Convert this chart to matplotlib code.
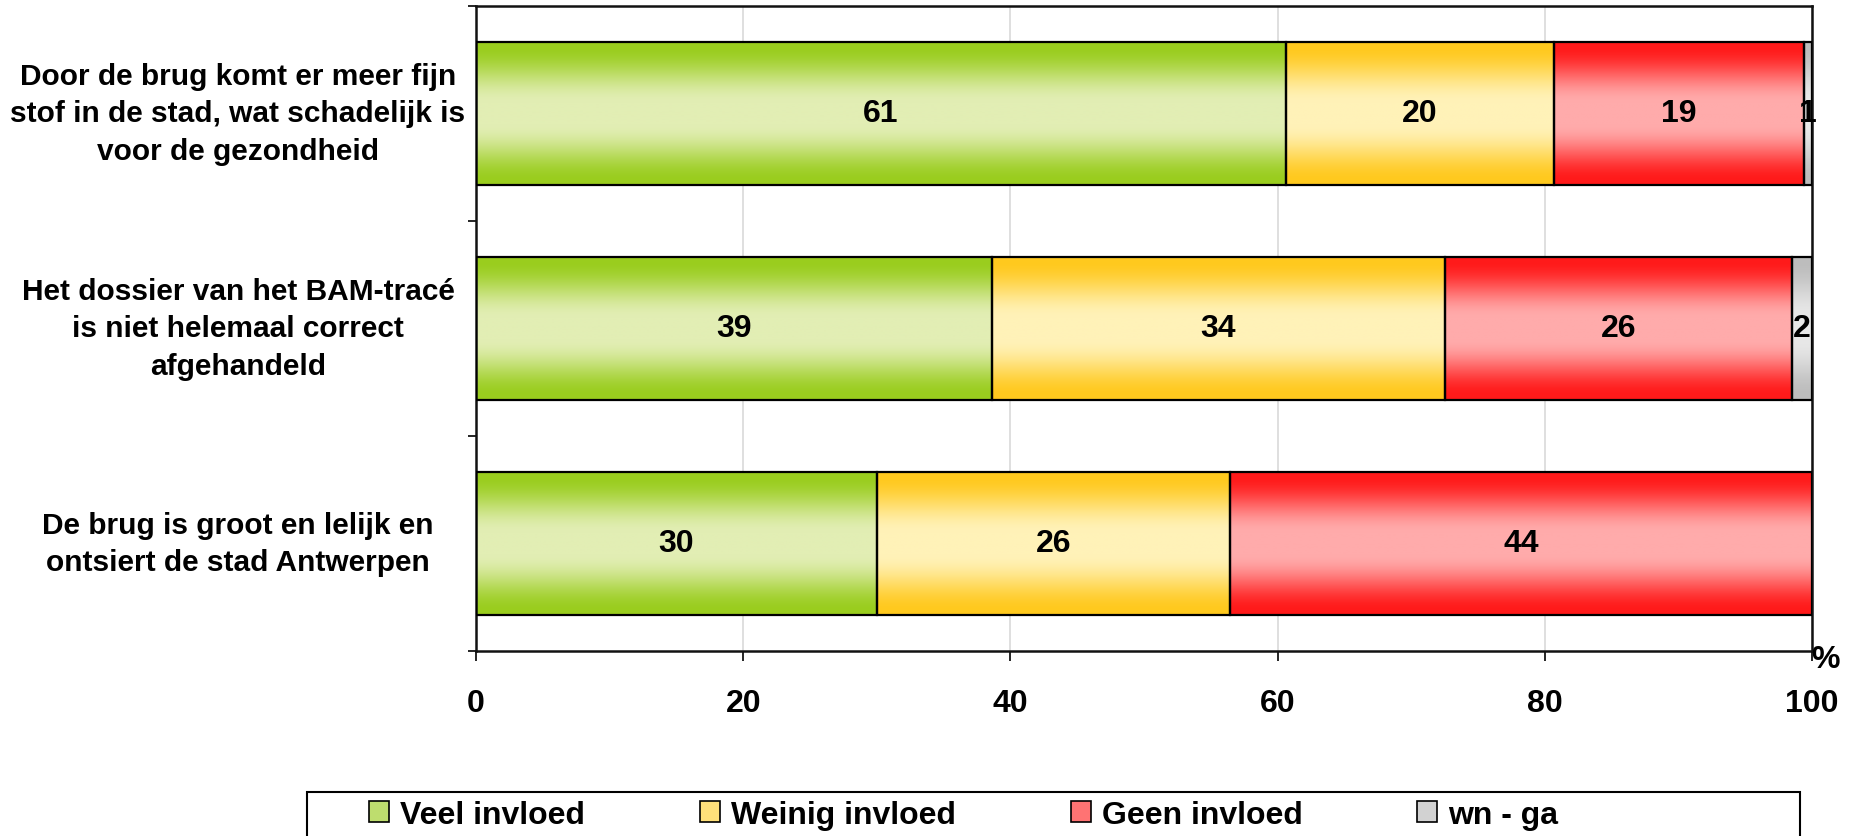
import numpy as np
import matplotlib
matplotlib.use('Agg')
import matplotlib.pyplot as plt
from matplotlib.colors import to_rgb
from matplotlib.patches import Patch, Rectangle
from matplotlib.ticker import FixedLocator

plt.rcParams['font.family'] = ['Liberation Sans', 'DejaVu Sans']
plt.rcParams['font.weight'] = 'bold'

statements = ['Door de brug komt er meer fijn\nstof in de stad, wat schadelijk is\nvoor de gezondheid',
              'Het dossier van het BAM-tracé\nis niet helemaal correct\nafgehandeld',
              'De brug is groot en lelijk en\nontsiert de stad Antwerpen']
series = ['Veel invloed', 'Weinig invloed', 'Geen invloed', 'wn - ga']
veel   = [60.6, 38.6, 30.0]
weinig = [20.1, 33.9, 26.4]
geen   = [18.7, 26.0, 43.6]
wn_ga  = [0.6, 1.5, 0.0]
xticks = [0, 20, 40, 60, 80, 100]

# (edge colour, centre colour) of the vertical gradients
grads = [('#9ACD1E', '#E2EEB4'),
         ('#FFC91E', '#FFF2B8'),
         ('#FF1A1A', '#FFABAB'),
         ('#BDBDBD', '#E8E8E8')]
legend_cols = ['#BEDD6E', '#FFE07A', '#FF7373', '#D2D2D2']


def gradient_img(edge, centre, n=200):
    t = np.abs(np.linspace(-1, 1, n))
    s = np.clip((t - 0.15) / 0.8, 0, 1)
    f = s * s * (3 - 2 * s)
    e, c = np.array(to_rgb(edge)), np.array(to_rgb(centre))
    img = c[None, :] + (e - c)[None, :] * f[:, None]
    return img[:, None, :]


fig = plt.figure(figsize=(18.55, 8.37), dpi=100)
ax = fig.add_axes([476 / 1855, 1 - 652 / 837, (1812 - 476) / 1855, (652 - 7) / 837])

bar_h = 0.665
data = [veel, weinig, geen, wn_ga]
for i in range(len(statements)):
    left = 0
    for s, vals in enumerate(data):
        v = vals[i]
        if v <= 0:
            continue
        ax.imshow(gradient_img(*grads[s]), extent=[left, left + v, i + bar_h / 2, i - bar_h / 2],
                  aspect='auto', zorder=2, interpolation='bilinear')
        ax.barh(i, v, left=left, height=bar_h, fill=False, edgecolor='black', linewidth=1.6, zorder=3)
        ax.text(left + v / 2, i, f'{v:.0f}', ha='center', va='center', fontsize=23,
                fontweight='bold', zorder=4)
        left += v

ax.set_xlim(0, 100)
ax.set_ylim(2.5, -0.5)
ax.set_xticks(xticks)
ax.set_xticklabels([str(x) for x in xticks], fontsize=23, fontweight='bold')
ax.tick_params(axis='x', direction='out', length=7, width=1.2, pad=20)
ax.yaxis.set_major_locator(FixedLocator([-0.5, 0.5, 1.5, 2.5]))
ax.set_yticklabels([])
ax.tick_params(axis='y', direction='out', length=6, width=1.2)
ax.grid(axis='x', color='#D9D9D9', linewidth=1.2, zorder=0)
ax.set_axisbelow(True)
for sp in ax.spines.values():
    sp.set_linewidth(1.8)
    sp.set_color('#111111')

trans = matplotlib.transforms.blended_transform_factory(fig.transFigure, ax.transData)
for i, lab in enumerate(statements):
    ax.text(238 / 1855, i, lab, transform=trans, ha='center', va='center', multialignment='center',
            fontsize=21.5, fontweight='bold', linespacing=1.45)

fig.text(1826 / 1855, 1 - 660 / 837, '%', ha='center', va='center', fontsize=23, fontweight='bold')

# legend frame runs past the bottom edge of the figure
fig.patches.append(Rectangle((307 / 1855, -0.05), (1800 - 307) / 1855, 0.05 + (837 - 793) / 837,
                             transform=fig.transFigure, fill=False, edgecolor='black', linewidth=1.5))
handles = [Patch(facecolor=c, edgecolor='black', linewidth=1.2) for c in legend_cols]
leg = fig.legend(handles, series, loc='center left', ncol=4,
                 bbox_to_anchor=(369 / 1855, 1 - 816 / 837),
                 bbox_transform=fig.transFigure, prop={'size': 23, 'weight': 'bold'},
                 frameon=False, handlelength=0.62, handleheight=0.62,
                 handletextpad=0.35, columnspacing=3.6, borderpad=0, borderaxespad=0)

fig.savefig('out.png', dpi=100)
plt.close()
